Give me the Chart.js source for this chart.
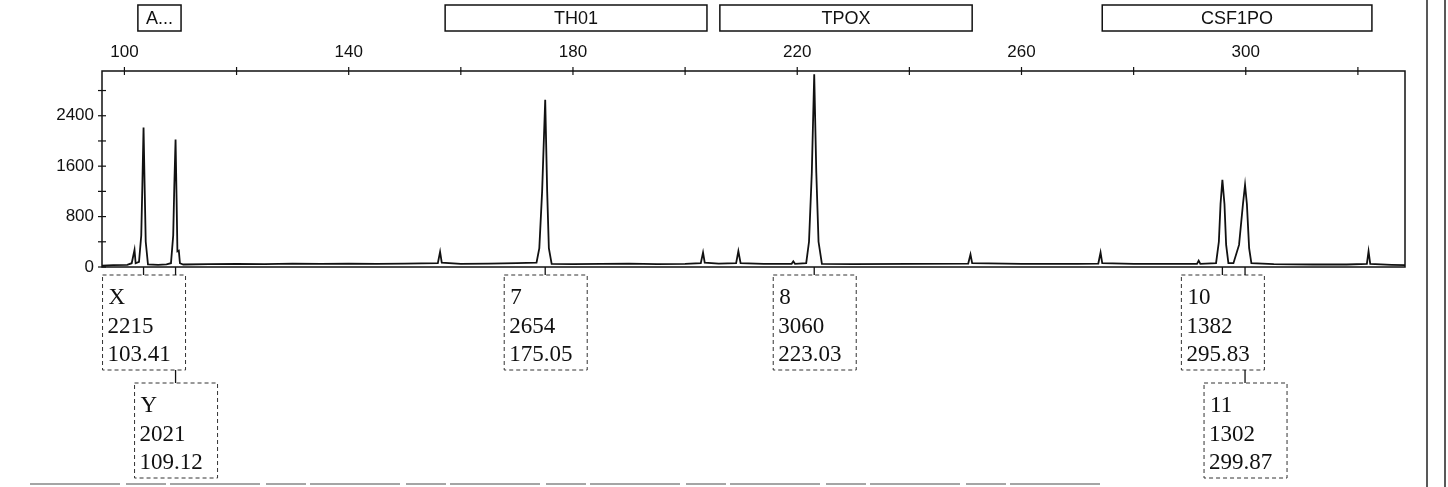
<!DOCTYPE html>
<html>
<head>
<meta charset="utf-8">
<title>Electropherogram</title>
<script src="https://cdn.jsdelivr.net/npm/chart.js@4.4.0/dist/chart.umd.min.js"></script>
<style>
  html, body { margin: 0; padding: 0; background: #fff; }
</style>
</head>
<body>
<canvas id="trace" width="1448" height="487"></canvas>
<script>
// trace samples: fragment size (bp) and signal (RFU)
const traceBp = [
  96.0, 98.0, 100.5, 101.3, 101.8, 102.0, 102.6, 103.0, 103.2, 103.41, 103.6, 103.8, 104.2,
  106.0, 107.5, 108.3, 108.7, 108.9, 109.12, 109.3, 109.45, 109.7, 109.9, 110.5,
  115, 120, 125, 130, 135, 140, 145, 150, 155.9, 156.3, 156.6, 160, 165, 170,
  173.5, 174.0, 174.5, 175.05, 175.4, 175.7, 176.2, 180, 185, 190, 195, 200,
  202.8, 203.2, 203.5, 206, 209.1, 209.5, 209.9, 214, 219.0, 219.3, 219.6,
  221.6, 222.1, 222.6, 223.03, 223.4, 223.8, 224.4, 230, 240, 250.5, 250.9, 251.2,
  260, 270, 273.7, 274.1, 274.4, 280, 288, 291.3, 291.6, 291.9,
  294.7, 295.2, 295.5, 295.83, 296.2, 296.5, 296.9, 297.8, 298.8, 299.5, 299.87, 300.2, 300.6, 301.0,
  305, 312, 318, 321.6, 321.9, 322.2, 326, 328.4
];
const traceRfu = [
  20, 30, 35, 60, 270, 60, 80, 500, 1300, 2215, 1300, 400, 40,
  35, 40, 60, 500, 1300, 2021, 1100, 250, 260, 60, 40,
  45, 50, 45, 55, 50, 55, 50, 55, 60, 240, 70, 50, 55, 60,
  70, 300, 1200, 2654, 1200, 300, 50, 45, 50, 55, 45, 50,
  60, 230, 70, 55, 60, 250, 60, 50, 50, 90, 50,
  60, 400, 1500, 3060, 1500, 400, 50, 45, 50, 55, 200, 60,
  50, 50, 55, 230, 60, 50, 50, 50, 100, 50,
  60, 400, 1000, 1382, 1000, 350, 60, 60, 350, 1000, 1302, 1000, 300, 60,
  45, 40, 40, 50, 250, 50, 35, 30
];

// called alleles
const alleleName = ['X', 'Y', '7', '8', '10', '11'];
const alleleHeight = [2215, 2021, 2654, 3060, 1382, 1302];
const alleleSize = [103.41, 109.12, 175.05, 223.03, 295.83, 299.87];

// marker bins along the top
const lociNames = ['A...', 'TH01', 'TPOX', 'CSF1PO'];
const lociStart = [102.4, 157.2, 206.2, 274.4];
const lociEnd = [110.1, 203.9, 251.2, 322.5];

// axis ticks
const xTicks = [100, 120, 140, 160, 180, 200, 220, 240, 260, 280, 300, 320];
const xLabels = [100, 140, 180, 220, 260, 300];
const yTicks = [0, 400, 800, 1200, 1600, 2000, 2400, 2800];
const yLabels = [0, 800, 1600, 2400];

const INK = '#111';
const sans = '"Liberation Sans", Arial, sans-serif';
const serif = '"Liberation Serif", "Times New Roman", serif';

const points = traceBp.map((bp, i) => ({ x: bp, y: traceRfu[i] }));

function line(ctx, x1, y1, x2, y2) {
  ctx.beginPath();
  ctx.moveTo(x1, y1);
  ctx.lineTo(x2, y2);
  ctx.stroke();
}

const decorations = {
  id: 'decorations',
  afterDraw(chart) {
    const ctx = chart.ctx;
    const area = chart.chartArea;
    const xs = chart.scales.x;
    const ys = chart.scales.y;
    ctx.save();

    // plot frame
    ctx.strokeStyle = INK;
    ctx.lineWidth = 1.5;
    ctx.setLineDash([]);
    ctx.strokeRect(area.left, area.top, area.right - area.left, area.bottom - area.top);

    // tick marks crossing the axis lines
    ctx.lineWidth = 1.2;
    xTicks.forEach(v => {
      const px = xs.getPixelForValue(v);
      line(ctx, px, area.top - 4, px, area.top + 4);
    });
    yTicks.forEach(v => {
      const py = ys.getPixelForValue(v);
      line(ctx, area.left - 4, py, area.left + 4, py);
    });

    // marker bins
    ctx.font = '18px ' + sans;
    ctx.textAlign = 'center';
    ctx.textBaseline = 'middle';
    ctx.fillStyle = INK;
    ctx.lineWidth = 1.5;
    lociNames.forEach((name, i) => {
      const x1 = xs.getPixelForValue(lociStart[i]);
      const x2 = xs.getPixelForValue(lociEnd[i]);
      ctx.strokeRect(x1, 5, x2 - x1, 26);
      ctx.fillText(name, (x1 + x2) / 2, 19);
    });

    // allele call boxes under the peaks
    const boxW = 83, boxH = 95;
    const rowTop = [275, 383];
    let lastRight = -Infinity;
    ctx.font = '23px ' + serif;
    ctx.textAlign = 'left';
    alleleName.forEach((name, i) => {
      const px = xs.getPixelForValue(alleleSize[i]);
      const left = px - 41;
      const row = left < lastRight ? 1 : 0;
      if (row === 0) lastRight = left + boxW;
      const top = rowTop[row];

      ctx.setLineDash([]);
      ctx.lineWidth = 1.3;
      ctx.strokeStyle = INK;
      line(ctx, px, area.bottom, px, rowTop[0]);
      if (row === 1) line(ctx, px, rowTop[0] + boxH, px, top);

      ctx.setLineDash([4, 3]);
      ctx.lineWidth = 1;
      ctx.strokeStyle = '#333';
      ctx.strokeRect(left, top, boxW, boxH);

      ctx.fillStyle = INK;
      ctx.fillText(name, left + 6, top + 23);
      ctx.fillText(String(alleleHeight[i]), left + 5, top + 52);
      ctx.fillText(alleleSize[i].toFixed(2), left + 5, top + 80);
    });

    // page edges
    ctx.setLineDash([]);
    ctx.strokeStyle = '#222';
    ctx.lineWidth = 1.5;
    line(ctx, 1427, 0, 1427, 487);
    line(ctx, 1445, 0, 1445, 487);
    ctx.strokeStyle = '#888';
    ctx.lineWidth = 1.5;
    ctx.setLineDash([90, 6, 40, 4]);
    line(ctx, 30, 484, 1100, 484);

    ctx.restore();
  }
};

new Chart(document.getElementById('trace'), {
  type: 'scatter',
  data: {
    datasets: [{
      data: points,
      showLine: true,
      borderColor: INK,
      borderWidth: 1.8,
      pointRadius: 0,
      tension: 0
    }]
  },
  options: {
    responsive: false,
    animation: false,
    layout: { padding: { left: 0, top: 0, right: 43, bottom: 220 } },
    plugins: {
      legend: { display: false },
      tooltip: { enabled: false }
    },
    scales: {
      x: {
        type: 'linear',
        position: 'top',
        min: 96,
        max: 328.4,
        afterFit: s => { s.height = 71; },
        afterBuildTicks: s => { s.ticks = xTicks.map(v => ({ value: v })); },
        grid: { display: false, drawTicks: false },
        border: { display: false },
        ticks: {
          autoSkip: false,
          maxRotation: 0,
          padding: 8,
          color: INK,
          font: { family: sans, size: 17 },
          callback: v => xLabels.includes(v) ? String(v) : ''
        }
      },
      y: {
        min: 0,
        max: 3110,
        afterFit: s => { s.width = 102; },
        afterBuildTicks: s => { s.ticks = yTicks.map(v => ({ value: v })); },
        grid: { display: false, drawTicks: false },
        border: { display: false },
        ticks: {
          autoSkip: false,
          padding: 8,
          color: INK,
          font: { family: sans, size: 17 },
          callback: v => yLabels.includes(v) ? String(v) : ''
        }
      }
    }
  },
  plugins: [decorations]
});
</script>
</body>
</html>
